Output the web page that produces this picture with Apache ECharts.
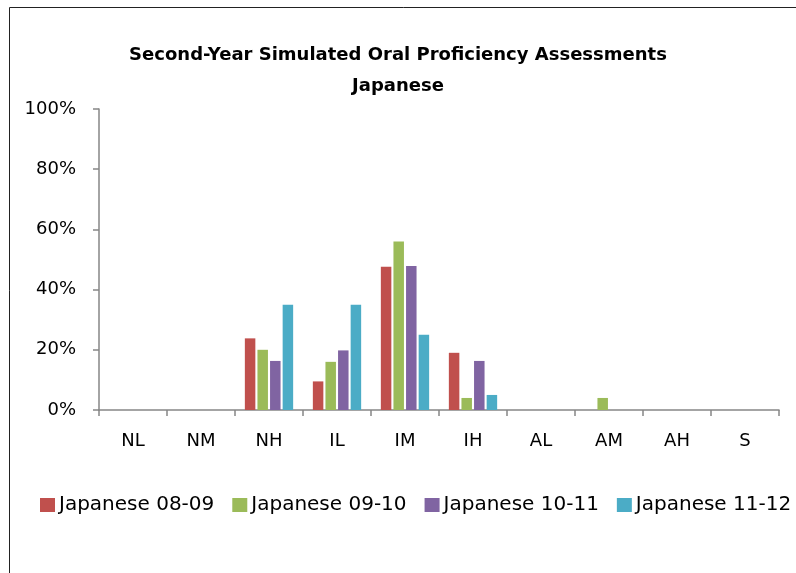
<!DOCTYPE html>
<html>
<head>
<meta charset="utf-8">
<script src="https://cdn.jsdelivr.net/npm/echarts@6/dist/echarts.min.js"></script>
<style>html,body{margin:0;padding:0;background:#fff;}#c{width:796px;height:573px;}</style>
</head>
<body>
<div id="c"></div>
<script>
const categories = ['NL', 'NM', 'NH', 'IL', 'IM', 'IH', 'AL', 'AM', 'AH', 'S'];
const seriesNames = ['Japanese 08-09', 'Japanese 09-10', 'Japanese 10-11', 'Japanese 11-12'];
const jp0809 = [0, 0, 23.8, 9.5, 47.6, 19.0, 0, 0, 0, 0];
const jp0910 = [0, 0, 20, 16, 56, 4, 0, 4, 0, 0];
const jp1011 = [0, 0, 16.3, 19.8, 47.8, 16.3, 0, 0, 0, 0];
const jp1112 = [0, 0, 35, 35, 25, 5, 0, 0, 0, 0];
const yTicks = [0, 20, 40, 60, 80, 100];
const colors = ['#C0504D', '#9BBB59', '#8064A2', '#4BACC6'];

const FONT = 'DejaVu Sans';
const chart = echarts.init(document.getElementById('c'));
const allData = [jp0809, jp0910, jp1011, jp1112];
chart.setOption({
  animation: false,
  color: colors,
  title: {
    text: 'Second-Year Simulated Oral Proficiency Assessments\nJapanese',
    left: 'center',
    top: 35,
    textStyle: { fontFamily: FONT, fontWeight: 'bold', fontSize: 18, lineHeight: 31, color: '#000' }
  },
  graphic: [{
    type: 'rect',
    shape: { x: 9.5, y: 7.5, width: 820, height: 620 },
    style: { fill: 'none', stroke: '#222', lineWidth: 1 },
    silent: true
  }],
  legend: {
    data: seriesNames,
    left: 35,
    top: 490,
    width: 790,
    padding: [5, 0, 5, 5],
    itemWidth: 15,
    itemHeight: 14,
    itemGap: 18,
    icon: 'rect',
    textStyle: { fontFamily: FONT, fontSize: 20, color: '#000', padding: [0, 0, 0, -1] }
  },
  grid: { left: 99, right: 17, top: 109, bottom: 163 },
  xAxis: {
    type: 'category',
    data: categories,
    axisLine: { lineStyle: { color: '#868686', width: 1.5 } },
    axisTick: { show: true, length: 6, lineStyle: { color: '#868686', width: 1.5 } },
    axisLabel: { fontFamily: FONT, fontSize: 18, color: '#000', margin: 22 }
  },
  yAxis: {
    type: 'value',
    min: 0,
    max: 100,
    interval: 20,
    axisLine: { show: true, lineStyle: { color: '#868686', width: 1.5 } },
    axisTick: { show: true, length: 6, lineStyle: { color: '#868686', width: 1.5 } },
    splitLine: { show: false },
    axisLabel: {
      fontFamily: FONT, fontSize: 18, color: '#000', margin: 23,
      formatter: v => (yTicks.indexOf(v) >= 0 ? v + '%' : '')
    }
  },
  series: seriesNames.map((n, i) => ({
    name: n,
    type: 'bar',
    data: allData[i],
    barWidth: 10.5,
    barGap: '20%',
    itemStyle: { color: colors[i] }
  }))
});
</script>
</body>
</html>
